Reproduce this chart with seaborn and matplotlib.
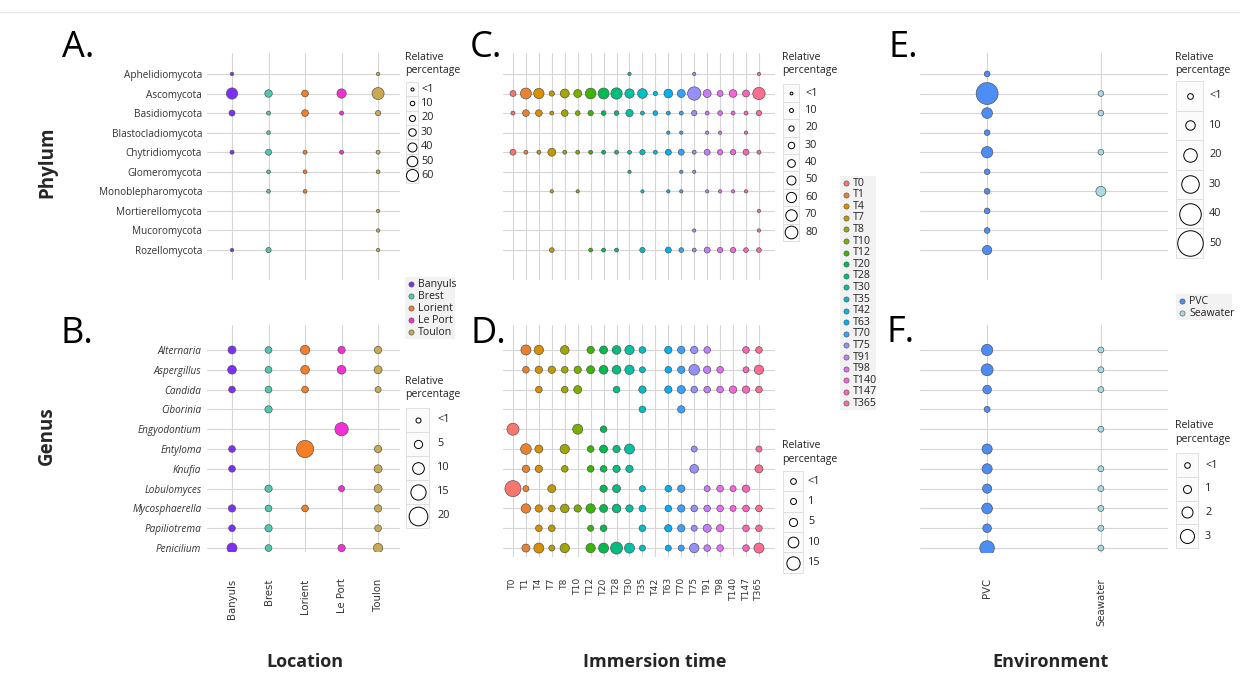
import matplotlib
matplotlib.use("Agg")
import matplotlib.pyplot as plt
from matplotlib.patches import Rectangle
import seaborn as sns
import pandas as pd

sns.set_style("white")
plt.rcParams['font.family'] = ['Open Sans', 'DejaVu Sans']

W, H = 1240, 678
N = None

# ---- categories ----
phyla = ['Aphelidiomycota', 'Ascomycota', 'Basidiomycota', 'Blastocladiomycota', 'Chytridiomycota',
         'Glomeromycota', 'Monoblepharomycota', 'Mortierellomycota', 'Mucoromycota', 'Rozellomycota']
genera = ['Alternaria', 'Aspergillus', 'Candida', 'Ciborinia', 'Engyodontium', 'Entyloma',
          'Knufia', 'Lobulomyces', 'Mycosphaerella', 'Papiliotrema', 'Penicilium']
locations = ['Banyuls', 'Brest', 'Lorient', 'Le Port', 'Toulon']
times = ['T0', 'T1', 'T4', 'T7', 'T8', 'T10', 'T12', 'T20', 'T28', 'T30',
         'T35', 'T42', 'T63', 'T70', 'T75', 'T91', 'T98', 'T140', 'T147', 'T365']
envs = ['PVC', 'Seawater']

# ---- relative percentages ----
# A: phylum x location (one list per location, in phyla order)
phylum_location = {
    'Banyuls': [3, 55, 20, N, 7, N, N, N, N, 3],
    'Brest':   [N, 30, 7, 5, 20, 5, 5, N, N, 15],
    'Lorient': [N, 25, 25, N, 7, 5, 5, N, N, N],
    'Le Port': [N, 42, 7, N, 7, N, N, N, N, N],
    'Toulon':  [3, 60, 15, N, 7, 5, N, 3, 3, 3],
}
# B: genus x location (one list per location, in genera order)
genus_location = {
    'Banyuls': [4.7, 5.7, 2.9, N, N, 2.9, 2.9, N, 3.7, 2.9, 7.6],
    'Brest':   [2.9, 2.9, 2.9, 3.7, N, N, N, 3.7, 2.9, 3.7, 2.9],
    'Lorient': [6.6, 5.7, 2.9, N, N, 18, N, N, 2.9, N, N],
    'Le Port': [3.7, 5.7, N, N, 12.3, N, N, 1.9, N, N, 3.7],
    'Toulon':  [3.7, 4.7, 1.9, N, N, 3.7, 4.7, 4.7, 3.7, 2.9, 6.6],
}
# C: phylum x immersion time (one list per phylum, in times order)
phylum_time = {
    'Aphelidiomycota':    [N, N, N, N, N, N, N, N, N, 5, N, N, N, N, 5, N, N, N, N, 5],
    'Ascomycota':         [26, 66, 61, 21, 50, 42, 64, 66, 69, 53, 56, 13, 48, 42, 85, 42, 26, 40, 34, 77],
    'Basidiomycota':      [10, 32, 32, 10, 32, 16, 21, 16, 16, 37, 10, 16, 10, 10, 21, 10, 16, 10, 10, 21],
    'Blastocladiomycota': [N, N, N, N, N, N, N, N, N, N, N, N, 5, 5, N, 5, 5, N, 5, N],
    'Chytridiomycota':    [26, 10, 10, 42, 10, 10, 10, 10, 10, 10, 21, 10, 26, 26, 10, 26, 21, 21, 26, 10],
    'Glomeromycota':      [N, N, N, N, N, N, N, N, N, 5, N, N, N, 5, 5, N, N, N, N, N],
    'Monoblepharomycota': [N, N, N, 5, N, 5, N, N, N, N, 5, N, 5, 5, N, 5, 5, 5, 5, N],
    'Mortierellomycota':  [N, N, N, N, N, N, N, N, N, N, N, N, N, N, N, N, N, N, N, 5],
    'Mucoromycota':       [N, N, N, N, N, N, N, N, N, N, N, N, N, N, 5, N, N, N, N, 5],
    'Rozellomycota':      [N, N, N, 16, N, N, 10, 10, 10, N, 21, N, 26, 16, 10, 26, 21, 21, 16, 16],
}
# D: genus x immersion time (one list per genus, in times order)
genus_time = {
    'Alternaria':     [N, 8.7, 7.4, N, 6.1, N, 3.5, 4.8, 6.1, 7.4, 2.2, N, 3.5, 3.5, 3.5, 2.2, N, N, 2.2, 2.2],
    'Aspergillus':    [N, 2.2, 3.5, 3.5, 2.2, 3.5, 4.8, 6.1, 6.1, 7.4, 1.0, N, 2.2, 3.5, 9.9, 3.5, 2.2, N, 1.0, 7.4],
    'Candida':        [N, N, 2.2, N, 2.2, 4.8, N, N, 2.2, N, 3.5, N, 3.5, 4.8, 2.2, 2.2, 2.2, 3.5, 3.5, 2.2],
    'Ciborinia':      [N, N, N, N, N, N, N, N, N, N, 2.2, N, N, 3.5, N, N, N, N, N, N],
    'Engyodontium':   [12.5, N, N, N, N, 8.7, N, 2.2, N, N, N, N, N, N, N, N, N, N, N, N],
    'Entyloma':       [N, 9.9, 4.8, N, 7.4, N, 2.2, 4.8, 3.5, 8.7, N, N, N, N, 1.0, N, N, N, N, 1.0],
    'Knufia':         [N, 3.5, 3.5, N, 2.2, N, 2.2, 2.2, 3.5, 3.5, N, N, N, N, 6.1, N, N, N, N, 4.8],
    'Lobulomyces':    [20.2, 1.0, N, 4.8, N, N, N, 3.5, 4.8, N, 1.0, N, 2.2, 3.5, N, 1.0, 2.2, 1.0, 3.5, N],
    'Mycosphaerella': [N, 7.4, 3.5, 2.2, 6.1, 3.5, 7.4, 4.8, 6.1, 3.5, 2.2, N, 2.2, 3.5, 2.2, 2.2, 2.2, 1.0, 2.2, 2.2],
    'Papiliotrema':   [N, N, 2.2, 2.2, N, N, 1.0, 2.2, N, N, 2.2, N, 3.5, 3.5, 1.0, 4.8, 3.5, N, 2.2, 2.2],
    'Penicilium':     [N, 4.8, 8.7, 1.0, 7.4, N, 7.4, 8.7, 12.5, 8.7, 1.0, N, 1.0, 1.0, 7.4, 2.2, 2.2, N, 2.2, 8.7],
}
# E: phylum x environment (one list per environment, in phyla order)
phylum_env = {
    'PVC':      [0.5, 41, 12.9, 0.5, 14.6, 0.5, 0.5, 0.5, 0.5, 9.6],
    'Seawater': [N, 0.5, 0.5, N, 0.5, N, 11.2, N, N, N],
}
# F: genus x environment (one list per environment, in genera order)
genus_env = {
    'PVC':      [2.1, 2.3, 1.2, 0.33, N, 1.7, 1.7, 1.4, 1.9, 1.2, 3.2],
    'Seawater': [0.3, 0.3, 0.3, N, 0.3, N, 0.3, 0.3, 0.3, 0.3, 0.3],
}

# ---- legend breaks ----
breaks_A = [0.5, 10, 20, 30, 40, 50, 60]
breaks_B = [0.5, 5, 10, 15, 20]
breaks_C = [0.5, 10, 20, 30, 40, 50, 60, 70, 80]
breaks_D = [0.5, 1, 5, 10, 15]
breaks_E = [0.5, 10, 20, 30, 40, 50]
breaks_F = [0.2, 1, 2, 3]

# ---- colours ----
loc_colors = {'Banyuls': '#7D2EF8', 'Brest': '#50C8B0', 'Lorient': '#F57E26',
              'Le Port': '#F52FD6', 'Toulon': '#C9AA52'}
time_colors = dict(zip(times, ["#F8766D", "#EA8331", "#D89000", "#C09B00", "#A3A500", "#7CAE00",
                               "#39B600", "#00BB4E", "#00BF7D", "#00C1A3", "#00BFC4", "#00BAE0",
                               "#00B0F6", "#35A2FF", "#9590FF", "#C77CFF", "#E76BF3", "#FA62DB",
                               "#FF62BC", "#FF6C91"]))
env_colors = {'PVC': '#4C8DF6', 'Seawater': '#A8DCE4'}


def size_fn(d0, k):
    # diameter in px grows linearly with the percentage; return marker area in pt^2
    return lambda v: ((d0 + k * v) * 0.72) ** 2


size_A = size_fn(3.0, 0.15)
size_B = size_fn(4.7, 0.7)
size_C = size_fn(2.7, 0.125)
size_D = size_fn(5.5, 0.52)
size_E = size_fn(5.5, 0.4)
size_F = size_fn(5.0, 3.0)


def to_long(table, cols, rows, keyed_by_row):
    recs = []
    for key, vals in table.items():
        others = cols if keyed_by_row else rows
        for other, v in zip(others, vals):
            if v is None:
                continue
            r, c = (key, other) if keyed_by_row else (other, key)
            recs.append({'row': r, 'col': c, 'val': float(v),
                         'xi': cols.index(c), 'yi': rows.index(r)})
    return pd.DataFrame(recs)


fig = plt.figure(figsize=(W / 100, H / 100), dpi=100)


def rect(l, t, r, b):
    return [l / W, 1 - b / H, (r - l) / W, (b - t) / H]


def dot_panel(box, df, cols, rows, palette, sfn, xlim, ylim):
    ax = fig.add_axes(rect(*box))
    sns.scatterplot(data=df, x='xi', y='yi', hue='col', palette=palette,
                    size='val', sizes={v: sfn(v) for v in df['val'].unique()},
                    edgecolor='#4d4d4d', linewidth=0.45, legend=False, ax=ax, zorder=3)
    ax.set_xticks(range(len(cols)))
    ax.set_yticks(range(len(rows)))
    ax.set_xlim(*xlim)
    ax.set_ylim(*ylim)
    ax.grid(True, color='#d6d6d6', lw=0.8)
    ax.set_axisbelow(True)
    for sp in ax.spines.values():
        sp.set_visible(False)
    ax.tick_params(length=0, labelbottom=False, labelleft=False)
    ax.set_xlabel('')
    ax.set_ylabel('')
    ax.patch.set_alpha(0)
    return ax


dfA = to_long(phylum_location, locations, phyla, keyed_by_row=False)
dfB = to_long(genus_location, locations, genera, keyed_by_row=False)
dfC = to_long(phylum_time, times, phyla, keyed_by_row=True)
dfD = to_long(genus_time, times, genera, keyed_by_row=True)
dfE = to_long(phylum_env, envs, phyla, keyed_by_row=False)
dfF = to_long(genus_env, envs, genera, keyed_by_row=False)

axA = dot_panel((207, 53, 400, 280), dfA, locations, phyla, loc_colors, size_A, (-0.685, 4.6), (10.53, -1.07))
axB = dot_panel((207, 325, 400, 552), dfB, locations, genera, loc_colors, size_B, (-0.685, 4.6), (10.2, -1.26))
axC = dot_panel((503, 53, 775, 280), dfC, times, phyla, time_colors, size_C, (-0.77, 20.24), (10.53, -1.07))
axD = dot_panel((503, 325, 775, 557), dfD, times, genera, time_colors, size_D, (-0.77, 20.24), (10.45, -1.26))
axE = dot_panel((920, 53, 1168, 280), dfE, envs, phyla, env_colors, size_E, (-0.59, 1.59), (10.53, -1.07))
axF = dot_panel((920, 325, 1168, 553), dfF, envs, genera, env_colors, size_F, (-0.59, 1.59), (10.25, -1.26))

# row labels
axA.tick_params(axis='y', labelleft=True, length=2.5, width=0.6, color='#777777', pad=1, labelsize=7.2,
                labelcolor='#333333')
axA.set_yticklabels(phyla)
axB.tick_params(axis='y', labelleft=True, length=0, pad=4, labelsize=7.2, labelcolor='#333333')
axB.set_yticklabels(genera, style='italic')

# column labels
for ax, cols, pad, fs in [(axB, locations, 19, 7.3), (axD, times, 14.5, 6.6), (axF, envs, 18, 7.3)]:
    ax.tick_params(axis='x', labelbottom=True, pad=pad, labelsize=fs, labelcolor='#333333')
    ax.set_xticklabels(cols, rotation=90, family='DejaVu Sans')

# ---- overlay for titles and legends (pixel coordinates) ----
ov = fig.add_axes([0, 0, 1, 1])
ov.set_xlim(0, W)
ov.set_ylim(H, 0)
ov.axis('off')
ov.patch.set_alpha(0)

ov.plot([0, W], [12, 12], color='#e4e4e4', lw=1)

for letter, x, y in [('A.', 62, 57), ('B.', 61, 343), ('C.', 470, 57),
                     ('D.', 470, 343), ('E.', 888, 57), ('F.', 886, 342)]:
    ov.text(x, y, letter, fontsize=26, va='baseline', ha='left', color='black')

ov.text(47, 162, 'Phylum', rotation=90, fontsize=13.5, fontweight='bold', ha='center', va='center')
ov.text(47, 436, 'Genus', rotation=90, fontsize=13.5, fontweight='bold', ha='center', va='center')
for txt, x in [('Location', 305), ('Immersion time', 655), ('Environment', 1050)]:
    ov.text(x, 662, txt, fontsize=13, fontweight='bold', ha='center', va='center')


def size_legend(x, title_y, breaks, first_y, row_h, box_w, sfn, label_x):
    ov.text(x, title_y - 6.5, 'Relative\npercentage', fontsize=7.6, va='top', ha='left',
            linespacing=1.35, color='#222222')
    for i, v in enumerate(breaks):
        cy = first_y + i * row_h
        ov.add_patch(Rectangle((x + 1, cy - row_h / 2), box_w, row_h,
                               facecolor='#fbfbfb', edgecolor='#dcdcdc', lw=0.6))
        ov.scatter([x + 1 + box_w / 2], [cy], s=sfn(v), facecolor='white',
                   edgecolor='black', linewidth=0.7, zorder=3)
        lab = '<1' if v < 1 else f'{v:g}'
        ov.text(label_x, cy, lab, fontsize=7.8, va='center', ha='left', color='#222222')


size_legend(405, 58, breaks_A, 89, 14.4, 12, size_A, 421)
size_legend(405, 382, breaks_B, 420, 24, 23, size_B, 437)
size_legend(782, 58, breaks_C, 93, 17.4, 16, size_C, 805)
size_legend(782, 447, breaks_D, 481, 20.4, 20, size_D, 808)
size_legend(1175, 58, breaks_E, 96, 29.4, 27, size_E, 1209)
size_legend(1175, 427, breaks_F, 465, 23.7, 22, size_F, 1205)


def color_legend(x, first_y, row_h, names, colors, width):
    ov.add_patch(Rectangle((x - 6, first_y - row_h / 2 - 1), width, row_h * len(names) + 2,
                           facecolor='#f2f2f2', edgecolor='none'))
    for i, name in enumerate(names):
        cy = first_y + i * row_h
        ov.scatter([x], [cy], s=14, color=colors[name], edgecolor='#4d4d4d', linewidth=0.4, zorder=3)
        ov.text(x + 7, cy, name, fontsize=7.6, va='center', ha='left', color='#222222')


color_legend(411, 284, 12.1, locations, loc_colors, 50)
color_legend(846, 183, 11.6, times, time_colors, 36)
color_legend(1182, 301, 12, envs, env_colors, 56)

fig.savefig('out.png', dpi=100, facecolor='white')
